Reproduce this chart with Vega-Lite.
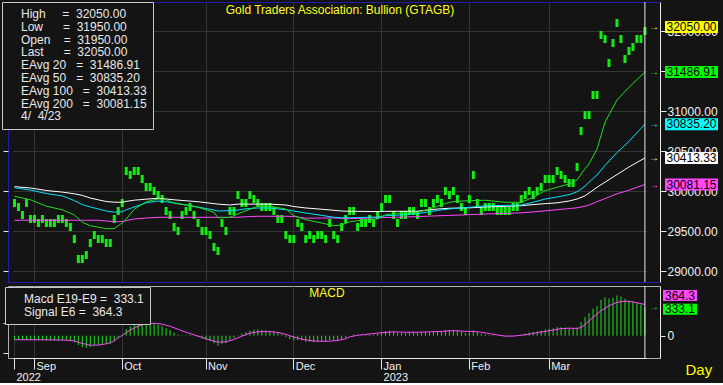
{
  "$schema": "https://vega.github.io/schema/vega-lite/v6.json",
  "background": "#141414",
  "padding": {"left": 1, "top": 1, "right": 0, "bottom": 0},
  "columns": 2,
  "align": "each",
  "bounds": "flush",
  "spacing": {"row": 4, "column": 0},
  "config": {
    "font": "Liberation Sans",
    "view": {"stroke": null},
    "axis": {"gridColor": "#353535", "domainColor": "#e8e8e8", "tickColor": "#e8e8e8", "labelColor": "#f0f0f0", "labelFont": "Liberation Sans", "labelFontSize": 12, "titleColor": "#ffff20", "titleFont": "Liberation Sans", "titleFontWeight": "normal"},
    "title": {"color": "#ffff20", "font": "Liberation Sans", "fontSize": 12, "fontWeight": "normal"},
    "legend": {"orient": "none", "direction": "vertical", "fillColor": "#141414", "strokeColor": "#c8c8c8", "padding": 6, "symbolType": "square", "symbolSize": 1, "symbolOpacity": 0, "symbolStrokeWidth": 0, "labelFont": "Liberation Sans", "labelFontSize": 12, "labelColor": "#e8e8e8", "labelOffset": 1, "rowPadding": 0.8, "labelLimit": 300}
  },
  "resolve": {"scale": {"x": "independent", "y": "independent", "color": "independent", "fill": "independent"}, "legend": {"color": "independent"}},
  "datasets": {
    "bars": [
      {"d":"2022-08-25","h":29900,"l":29800,"m":-51},
      {"d":"2022-08-26","h":29850,"l":29750,"m":-50},
      {"d":"2022-08-29","h":29750,"l":29650,"m":-52},
      {"d":"2022-08-30","h":29900,"l":29800,"m":-48},
      {"d":"2022-08-31","h":29700,"l":29600,"m":-52},
      {"d":"2022-09-01","h":29700,"l":29600,"m":-53},
      {"d":"2022-09-02","h":29650,"l":29550,"m":-55},
      {"d":"2022-09-05","h":29700,"l":29600,"m":-54},
      {"d":"2022-09-06","h":29650,"l":29550,"m":-56},
      {"d":"2022-09-07","h":29650,"l":29550,"m":-57},
      {"d":"2022-09-08","h":29650,"l":29550,"m":-58},
      {"d":"2022-09-09","h":29700,"l":29600,"m":-55},
      {"d":"2022-09-12","h":29700,"l":29600,"m":-53},
      {"d":"2022-09-13","h":29650,"l":29550,"m":-55},
      {"d":"2022-09-14","h":29600,"l":29500,"m":-60},
      {"d":"2022-09-15","h":29450,"l":29350,"m":-75},
      {"d":"2022-09-16","h":29200,"l":29100,"m":-110},
      {"d":"2022-09-19","h":29200,"l":29100,"m":-136},
      {"d":"2022-09-20","h":29250,"l":29150,"m":-140},
      {"d":"2022-09-21","h":29400,"l":29300,"m":-130},
      {"d":"2022-09-22","h":29500,"l":29400,"m":-115},
      {"d":"2022-09-23","h":29450,"l":29350,"m":-108},
      {"d":"2022-09-26","h":29450,"l":29350,"m":-100},
      {"d":"2022-09-27","h":29400,"l":29300,"m":-98},
      {"d":"2022-09-28","h":29400,"l":29300,"m":-95},
      {"d":"2022-09-29","h":29700,"l":29600,"m":-60},
      {"d":"2022-09-30","h":29800,"l":29700,"m":-25},
      {"d":"2022-10-03","h":29900,"l":29800,"m":10},
      {"d":"2022-10-04","h":30300,"l":30200,"m":75},
      {"d":"2022-10-05","h":30250,"l":30150,"m":110},
      {"d":"2022-10-06","h":30300,"l":30200,"m":140},
      {"d":"2022-10-07","h":30300,"l":30200,"m":156},
      {"d":"2022-10-10","h":30200,"l":30100,"m":160},
      {"d":"2022-10-11","h":30100,"l":30000,"m":155},
      {"d":"2022-10-12","h":30100,"l":30000,"m":150},
      {"d":"2022-10-13","h":30050,"l":29950,"m":140},
      {"d":"2022-10-14","h":30000,"l":29900,"m":128},
      {"d":"2022-10-17","h":29950,"l":29850,"m":112},
      {"d":"2022-10-18","h":29800,"l":29700,"m":88},
      {"d":"2022-10-19","h":29750,"l":29650,"m":65},
      {"d":"2022-10-20","h":29600,"l":29500,"m":35},
      {"d":"2022-10-21","h":29550,"l":29450,"m":10},
      {"d":"2022-10-24","h":29750,"l":29650,"m":5},
      {"d":"2022-10-25","h":29800,"l":29700,"m":5},
      {"d":"2022-10-26","h":29850,"l":29750,"m":8},
      {"d":"2022-10-27","h":29750,"l":29650,"m":0},
      {"d":"2022-10-28","h":29650,"l":29550,"m":-15},
      {"d":"2022-10-31","h":29550,"l":29450,"m":-35},
      {"d":"2022-11-01","h":29550,"l":29450,"m":-50},
      {"d":"2022-11-02","h":29500,"l":29400,"m":-65},
      {"d":"2022-11-03","h":29350,"l":29250,"m":-90},
      {"d":"2022-11-04","h":29300,"l":29200,"m":-117},
      {"d":"2022-11-07","h":29650,"l":29550,"m":-95},
      {"d":"2022-11-08","h":29550,"l":29450,"m":-85},
      {"d":"2022-11-09","h":29800,"l":29700,"m":-55},
      {"d":"2022-11-10","h":29800,"l":29700,"m":-30},
      {"d":"2022-11-11","h":30000,"l":29900,"m":5},
      {"d":"2022-11-14","h":29900,"l":29800,"m":25},
      {"d":"2022-11-15","h":29900,"l":29800,"m":40},
      {"d":"2022-11-16","h":30000,"l":29900,"m":60},
      {"d":"2022-11-17","h":29950,"l":29850,"m":70},
      {"d":"2022-11-18","h":29900,"l":29800,"m":72},
      {"d":"2022-11-21","h":29850,"l":29750,"m":68},
      {"d":"2022-11-22","h":29850,"l":29750,"m":62},
      {"d":"2022-11-23","h":29850,"l":29750,"m":55},
      {"d":"2022-11-24","h":29800,"l":29700,"m":45},
      {"d":"2022-11-25","h":29700,"l":29600,"m":28},
      {"d":"2022-11-28","h":29700,"l":29600,"m":15},
      {"d":"2022-11-29","h":29500,"l":29400,"m":-15},
      {"d":"2022-11-30","h":29450,"l":29350,"m":-40},
      {"d":"2022-12-01","h":29450,"l":29350,"m":-58},
      {"d":"2022-12-02","h":29650,"l":29550,"m":-52},
      {"d":"2022-12-05","h":29600,"l":29500,"m":-55},
      {"d":"2022-12-06","h":29450,"l":29350,"m":-70},
      {"d":"2022-12-07","h":29500,"l":29400,"m":-72},
      {"d":"2022-12-08","h":29450,"l":29350,"m":-76},
      {"d":"2022-12-09","h":29500,"l":29400,"m":-73},
      {"d":"2022-12-12","h":29500,"l":29400,"m":-70},
      {"d":"2022-12-13","h":29450,"l":29350,"m":-70},
      {"d":"2022-12-14","h":29650,"l":29550,"m":-52},
      {"d":"2022-12-15","h":29500,"l":29400,"m":-55},
      {"d":"2022-12-16","h":29450,"l":29350,"m":-58},
      {"d":"2022-12-19","h":29600,"l":29500,"m":-45},
      {"d":"2022-12-20","h":29700,"l":29600,"m":-25},
      {"d":"2022-12-21","h":29800,"l":29700,"m":0},
      {"d":"2022-12-22","h":29800,"l":29700,"m":15},
      {"d":"2022-12-23","h":29600,"l":29500,"m":5},
      {"d":"2022-12-26","h":29650,"l":29550,"m":5},
      {"d":"2022-12-27","h":29650,"l":29550,"m":8},
      {"d":"2022-12-28","h":29700,"l":29600,"m":12},
      {"d":"2022-12-29","h":29650,"l":29550,"m":12},
      {"d":"2022-12-30","h":29750,"l":29650,"m":20},
      {"d":"2023-01-02","h":29850,"l":29750,"m":35},
      {"d":"2023-01-03","h":29950,"l":29850,"m":52},
      {"d":"2023-01-04","h":29950,"l":29850,"m":60},
      {"d":"2023-01-05","h":29750,"l":29650,"m":45},
      {"d":"2023-01-06","h":29650,"l":29550,"m":30},
      {"d":"2023-01-09","h":29750,"l":29650,"m":30},
      {"d":"2023-01-10","h":29750,"l":29650,"m":30},
      {"d":"2023-01-11","h":29800,"l":29700,"m":33},
      {"d":"2023-01-12","h":29800,"l":29700,"m":35},
      {"d":"2023-01-13","h":29750,"l":29650,"m":30},
      {"d":"2023-01-16","h":29900,"l":29800,"m":40},
      {"d":"2023-01-17","h":29900,"l":29800,"m":45},
      {"d":"2023-01-18","h":29800,"l":29700,"m":40},
      {"d":"2023-01-19","h":29900,"l":29800,"m":45},
      {"d":"2023-01-20","h":29950,"l":29850,"m":50},
      {"d":"2023-01-23","h":29900,"l":29800,"m":50},
      {"d":"2023-01-24","h":30050,"l":29950,"m":62},
      {"d":"2023-01-25","h":30000,"l":29900,"m":64},
      {"d":"2023-01-26","h":30050,"l":29950,"m":68},
      {"d":"2023-01-27","h":29950,"l":29850,"m":60},
      {"d":"2023-01-30","h":29850,"l":29750,"m":45},
      {"d":"2023-01-31","h":29800,"l":29700,"m":32},
      {"d":"2023-02-01","h":29950,"l":29850,"m":35},
      {"d":"2023-02-02","h":30250,"l":30150,"m":60},
      {"d":"2023-02-03","h":29900,"l":29800,"m":40},
      {"d":"2023-02-06","h":29800,"l":29700,"m":22},
      {"d":"2023-02-07","h":29850,"l":29750,"m":15},
      {"d":"2023-02-08","h":29850,"l":29750,"m":10},
      {"d":"2023-02-09","h":29850,"l":29750,"m":6},
      {"d":"2023-02-10","h":29800,"l":29700,"m":0},
      {"d":"2023-02-13","h":29800,"l":29700,"m":-5},
      {"d":"2023-02-14","h":29800,"l":29700,"m":-8},
      {"d":"2023-02-15","h":29800,"l":29700,"m":-10},
      {"d":"2023-02-16","h":29850,"l":29750,"m":-5},
      {"d":"2023-02-17","h":29850,"l":29750,"m":0},
      {"d":"2023-02-20","h":29950,"l":29850,"m":12},
      {"d":"2023-02-21","h":30000,"l":29900,"m":25},
      {"d":"2023-02-22","h":30050,"l":29950,"m":40},
      {"d":"2023-02-23","h":30000,"l":29900,"m":45},
      {"d":"2023-02-24","h":30050,"l":29950,"m":52},
      {"d":"2023-02-27","h":30100,"l":30000,"m":60},
      {"d":"2023-02-28","h":30200,"l":30100,"m":72},
      {"d":"2023-03-01","h":30200,"l":30100,"m":80},
      {"d":"2023-03-02","h":30200,"l":30100,"m":85},
      {"d":"2023-03-03","h":30300,"l":30200,"m":100},
      {"d":"2023-03-06","h":30250,"l":30150,"m":100},
      {"d":"2023-03-07","h":30200,"l":30100,"m":94},
      {"d":"2023-03-08","h":30150,"l":30050,"m":85},
      {"d":"2023-03-09","h":30150,"l":30050,"m":78},
      {"d":"2023-03-10","h":30350,"l":30250,"m":95},
      {"d":"2023-03-13","h":30800,"l":30700,"m":160},
      {"d":"2023-03-14","h":31000,"l":30900,"m":220},
      {"d":"2023-03-15","h":31000,"l":30900,"m":265},
      {"d":"2023-03-16","h":31250,"l":31150,"m":315},
      {"d":"2023-03-17","h":31250,"l":31150,"m":345},
      {"d":"2023-03-20","h":32000,"l":31900,"m":420},
      {"d":"2023-03-21","h":31950,"l":31850,"m":450},
      {"d":"2023-03-22","h":31650,"l":31550,"m":435},
      {"d":"2023-03-23","h":31900,"l":31800,"m":445},
      {"d":"2023-03-24","h":32150,"l":32050,"m":470},
      {"d":"2023-03-27","h":31950,"l":31850,"m":460},
      {"d":"2023-03-28","h":31700,"l":31600,"m":430},
      {"d":"2023-03-29","h":31800,"l":31700,"m":410},
      {"d":"2023-03-30","h":31850,"l":31750,"m":395},
      {"d":"2023-03-31","h":31950,"l":31850,"m":380},
      {"d":"2023-04-03","h":31950,"l":31850,"m":365},
      {"d":"2023-04-04","h":32050,"l":31950,"m":333.1}
    ],
    "ema": [
      {"d":"2022-08-25","e20":29934,"e50":30041,"e100":30054,"e200":29634},
      {"d":"2022-08-31","e20":29890,"e50":30012,"e100":30038,"e200":29634},
      {"d":"2022-09-06","e20":29810,"e50":29968,"e100":30006,"e200":29634},
      {"d":"2022-09-12","e20":29765,"e50":29938,"e100":29986,"e200":29634},
      {"d":"2022-09-15","e20":29700,"e50":29880,"e100":29965,"e200":29634},
      {"d":"2022-09-19","e20":29609,"e50":29830,"e100":29945,"e200":29634},
      {"d":"2022-09-21","e20":29566,"e50":29800,"e100":29912,"e200":29634},
      {"d":"2022-09-23","e20":29548,"e50":29775,"e100":29890,"e200":29634},
      {"d":"2022-09-27","e20":29528,"e50":29750,"e100":29868,"e200":29625},
      {"d":"2022-09-29","e20":29530,"e50":29735,"e100":29860,"e200":29616},
      {"d":"2022-09-30","e20":29566,"e50":29738,"e100":29859,"e200":29616},
      {"d":"2022-10-03","e20":29600,"e50":29740,"e100":29860,"e200":29620},
      {"d":"2022-10-04","e20":29650,"e50":29765,"e100":29870,"e200":29630},
      {"d":"2022-10-06","e20":29770,"e50":29800,"e100":29885,"e200":29650},
      {"d":"2022-10-11","e20":29866,"e50":29852,"e100":29898,"e200":29662},
      {"d":"2022-10-14","e20":29900,"e50":29875,"e100":29909,"e200":29671},
      {"d":"2022-10-18","e20":29891,"e50":29865,"e100":29900,"e200":29671},
      {"d":"2022-10-20","e20":29846,"e50":29852,"e100":29890,"e200":29671},
      {"d":"2022-10-25","e20":29825,"e50":29825,"e100":29878,"e200":29671},
      {"d":"2022-10-28","e20":29796,"e50":29800,"e100":29866,"e200":29671},
      {"d":"2022-11-03","e20":29734,"e50":29762,"e100":29842,"e200":29671},
      {"d":"2022-11-04","e20":29665,"e50":29750,"e100":29836,"e200":29671},
      {"d":"2022-11-09","e20":29671,"e50":29755,"e100":29825,"e200":29671},
      {"d":"2022-11-11","e20":29713,"e50":29762,"e100":29836,"e200":29672},
      {"d":"2022-11-15","e20":29754,"e50":29778,"e100":29836,"e200":29678},
      {"d":"2022-11-18","e20":29809,"e50":29788,"e100":29836,"e200":29684},
      {"d":"2022-11-23","e20":29809,"e50":29788,"e100":29836,"e200":29684},
      {"d":"2022-11-29","e20":29775,"e50":29765,"e100":29825,"e200":29684},
      {"d":"2022-12-01","e20":29691,"e50":29750,"e100":29806,"e200":29682},
      {"d":"2022-12-06","e20":29641,"e50":29725,"e100":29788,"e200":29660},
      {"d":"2022-12-12","e20":29600,"e50":29695,"e100":29772,"e200":29662},
      {"d":"2022-12-15","e20":29566,"e50":29672,"e100":29759,"e200":29663},
      {"d":"2022-12-19","e20":29575,"e50":29666,"e100":29750,"e200":29658},
      {"d":"2022-12-21","e20":29615,"e50":29666,"e100":29746,"e200":29654},
      {"d":"2022-12-23","e20":29629,"e50":29668,"e100":29746,"e200":29656},
      {"d":"2022-12-30","e20":29650,"e50":29675,"e100":29742,"e200":29666},
      {"d":"2023-01-03","e20":29704,"e50":29691,"e100":29746,"e200":29668},
      {"d":"2023-01-06","e20":29721,"e50":29698,"e100":29746,"e200":29672},
      {"d":"2023-01-13","e20":29734,"e50":29718,"e100":29748,"e200":29680},
      {"d":"2023-01-18","e20":29775,"e50":29740,"e100":29765,"e200":29686},
      {"d":"2023-01-20","e20":29809,"e50":29757,"e100":29775,"e200":29690},
      {"d":"2023-01-25","e20":29859,"e50":29775,"e100":29784,"e200":29695},
      {"d":"2023-01-27","e20":29871,"e50":29785,"e100":29787,"e200":29698},
      {"d":"2023-02-01","e20":29880,"e50":29795,"e100":29790,"e200":29705},
      {"d":"2023-02-07","e20":29884,"e50":29815,"e100":29800,"e200":29712},
      {"d":"2023-02-14","e20":29859,"e50":29820,"e100":29808,"e200":29720},
      {"d":"2023-02-20","e20":29859,"e50":29825,"e100":29816,"e200":29727},
      {"d":"2023-02-23","e20":29921,"e50":29859,"e100":29830,"e200":29738},
      {"d":"2023-02-28","e20":30004,"e50":29900,"e100":29842,"e200":29752},
      {"d":"2023-03-03","e20":30046,"e50":29925,"e100":29852,"e200":29766},
      {"d":"2023-03-08","e20":30088,"e50":29955,"e100":29875,"e200":29780},
      {"d":"2023-03-10","e20":30138,"e50":29990,"e100":29900,"e200":29790},
      {"d":"2023-03-14","e20":30280,"e50":30060,"e100":29940,"e200":29810},
      {"d":"2023-03-15","e20":30340,"e50":30110,"e100":29975,"e200":29825},
      {"d":"2023-03-17","e20":30525,"e50":30200,"e100":30046,"e200":29866},
      {"d":"2023-03-21","e20":30859,"e50":30320,"e100":30110,"e200":29905},
      {"d":"2023-03-24","e20":31138,"e50":30480,"e100":30205,"e200":29965},
      {"d":"2023-03-29","e20":31296,"e50":30620,"e100":30300,"e200":30010},
      {"d":"2023-04-04","e20":31486.91,"e50":30835.2,"e100":30413.33,"e200":30081.15}
    ],
    "sig": [
      {"d":"2022-08-25","s":-47},{"d":"2022-09-06","s":-48},{"d":"2022-09-13","s":-52},{"d":"2022-09-15","s":-62},
      {"d":"2022-09-19","s":-90},{"d":"2022-09-21","s":-112},{"d":"2022-09-23","s":-110},{"d":"2022-09-27","s":-95},
      {"d":"2022-09-28","s":-82},{"d":"2022-09-29","s":-62},{"d":"2022-09-30","s":-25},{"d":"2022-10-03","s":5},
      {"d":"2022-10-04","s":35},{"d":"2022-10-05","s":65},{"d":"2022-10-07","s":110},{"d":"2022-10-11","s":140},
      {"d":"2022-10-13","s":145},{"d":"2022-10-17","s":135},{"d":"2022-10-19","s":110},{"d":"2022-10-21","s":75},
      {"d":"2022-10-25","s":40},{"d":"2022-10-27","s":10},{"d":"2022-10-31","s":-20},{"d":"2022-11-02","s":-50},
      {"d":"2022-11-04","s":-75},{"d":"2022-11-08","s":-72},{"d":"2022-11-10","s":-45},{"d":"2022-11-14","s":-5},
      {"d":"2022-11-16","s":30},{"d":"2022-11-18","s":45},{"d":"2022-11-22","s":48},{"d":"2022-11-24","s":45},
      {"d":"2022-11-28","s":28},{"d":"2022-11-30","s":0},{"d":"2022-12-02","s":-30},{"d":"2022-12-06","s":-50},
      {"d":"2022-12-08","s":-62},{"d":"2022-12-12","s":-66},{"d":"2022-12-14","s":-64},{"d":"2022-12-16","s":-56},
      {"d":"2022-12-20","s":-35},{"d":"2022-12-21","s":-15},{"d":"2022-12-23","s":5},{"d":"2022-12-27","s":15},
      {"d":"2022-12-29","s":25},{"d":"2023-01-02","s":35},{"d":"2023-01-05","s":45},{"d":"2023-01-10","s":40},
      {"d":"2023-01-13","s":40},{"d":"2023-01-18","s":45},{"d":"2023-01-23","s":50},{"d":"2023-01-25","s":57},
      {"d":"2023-01-27","s":58},{"d":"2023-01-31","s":50},{"d":"2023-02-02","s":50},{"d":"2023-02-06","s":40},
      {"d":"2023-02-08","s":25},{"d":"2023-02-10","s":8},{"d":"2023-02-14","s":-5},{"d":"2023-02-16","s":-5},
      {"d":"2023-02-20","s":5},{"d":"2023-02-22","s":18},{"d":"2023-02-24","s":35},{"d":"2023-02-28","s":50},
      {"d":"2023-03-02","s":65},{"d":"2023-03-06","s":82},{"d":"2023-03-08","s":88},{"d":"2023-03-10","s":85},
      {"d":"2023-03-13","s":95},{"d":"2023-03-14","s":130},{"d":"2023-03-16","s":215},{"d":"2023-03-20","s":292},
      {"d":"2023-03-22","s":350},{"d":"2023-03-24","s":390},{"d":"2023-03-28","s":404},{"d":"2023-03-30","s":395},
      {"d":"2023-04-03","s":375},{"d":"2023-04-04","s":364.3}
    ],
    "last": [
      {"s":"h","v":32050,"d":"2023-04-04"},
      {"s":"e20","v":31486.91,"d":"2023-04-04"},
      {"s":"e50","v":30835.2,"d":"2023-04-04"},
      {"s":"e100","v":30413.33,"d":"2023-04-04"},
      {"s":"e200","v":30081.15,"d":"2023-04-04"}
    ],
    "lastm": [
      {"s":"sig","v":364.3,"d":"2023-04-04"},
      {"s":"macd","v":333.1,"d":"2023-04-04"}
    ],
    "info": [
      {"t":"High\u00a0\u00a0\u00a0\u00a0\u00a0=\u00a0\u00a032050.00"},
      {"t":"Low\u00a0\u00a0\u00a0\u00a0\u00a0\u00a0=\u00a0\u00a031950.00"},
      {"t":"Open\u00a0\u00a0\u00a0\u00a0=\u00a0\u00a031950.00"},
      {"t":"Last\u00a0\u00a0\u00a0\u00a0\u00a0\u00a0=\u00a0\u00a032050.00"},
      {"t":"EAvg\u00a020\u00a0\u00a0\u00a0=\u00a0\u00a031486.91"},
      {"t":"EAvg\u00a050\u00a0\u00a0\u00a0=\u00a0\u00a030835.20"},
      {"t":"EAvg\u00a0100\u00a0\u00a0\u00a0=\u00a0\u00a030413.33"},
      {"t":"EAvg\u00a0200\u00a0\u00a0\u00a0=\u00a0\u00a030081.15"},
      {"t":"\u00a0\u00a04/\u00a0\u00a04/23"}
    ],
    "minfo": [
      {"t":"Macd\u00a0E19-E9\u00a0=\u00a0\u00a0333.1"},
      {"t":"Signal\u00a0E6\u00a0=\u00a0\u00a0364.3"}
    ]
  },
  "concat": [
    {
      "width": 652, "height": 280,
      "view": {"stroke": "#1c1cb0"},
      "title": {"text": "Gold Traders Association: Bullion (GTAGB)", "offset": -15, "frame": "group", "dx": 6},
      "layer": [
        {
          "data": {"name": "bars"},
          "mark": {"type": "bar", "color": "#12ee12"},
          "encoding": {
            "x": {"field": "d", "type": "ordinal", "title": null, "scale": {"type": "band", "paddingInner": 0.25, "paddingOuter": 0, "range": [5, 638.4]},
                  "axis": {"values": ["2022-09-01","2022-10-03","2022-11-01","2022-12-01","2023-01-02","2023-02-01","2023-03-01"], "bandPosition": 0.5, "grid": true, "ticks": false, "labels": false, "domain": false, "title": "No Gaps", "titleX": 7, "titleY": -4, "titleAlign": "left", "titleBaseline": "alphabetic", "titleFontSize": 11, "titleColor": "#e0e000"}},
            "y": {"field": "h", "type": "quantitative", "title": null, "scale": {"domain": [28862.5, 32362.5], "nice": false, "zero": false},
                  "axis": {"orient": "left", "values": [29000,29500,30000,30500,31000,31500,32000], "tickSize": 5, "labels": false, "domain": false, "grid": true, "title": null}},
            "y2": {"field": "l"}
          }
        },
        {
          "data": {"name": "ema"},
          "mark": {"type": "line", "color": "#ff48ff", "strokeWidth": 1},
          "encoding": {
            "x": {"field": "d", "type": "ordinal", "title": null, "scale": {"type": "band", "paddingInner": 0.25, "paddingOuter": 0, "range": [5, 638.4]}},
            "y": {"field": "e200", "type": "quantitative", "title": null}
          }
        },
        {
          "data": {"name": "ema"},
          "mark": {"type": "line", "color": "#ffffff", "strokeWidth": 1},
          "encoding": {
            "x": {"field": "d", "type": "ordinal", "title": null, "scale": {"type": "band", "paddingInner": 0.25, "paddingOuter": 0, "range": [5, 638.4]}},
            "y": {"field": "e100", "type": "quantitative", "title": null}
          }
        },
        {
          "data": {"name": "ema"},
          "mark": {"type": "line", "color": "#00e4ff", "strokeWidth": 1},
          "encoding": {
            "x": {"field": "d", "type": "ordinal", "title": null, "scale": {"type": "band", "paddingInner": 0.25, "paddingOuter": 0, "range": [5, 638.4]}},
            "y": {"field": "e50", "type": "quantitative", "title": null}
          }
        },
        {
          "data": {"name": "ema"},
          "mark": {"type": "line", "color": "#22dd22", "strokeWidth": 1},
          "encoding": {
            "x": {"field": "d", "type": "ordinal", "title": null, "scale": {"type": "band", "paddingInner": 0.25, "paddingOuter": 0, "range": [5, 638.4]}},
            "y": {"field": "e20", "type": "quantitative", "title": null}
          }
        },
        {
          "data": {"name": "bars"},
          "transform": [{"filter": "datum.d == '2023-04-04'"}],
          "mark": {"type": "rule", "color": "#e8e8e8", "strokeWidth": 1},
          "encoding": {"x": {"field": "d", "type": "ordinal", "title": null, "scale": {"type": "band", "paddingInner": 0.25, "paddingOuter": 0, "range": [5, 638.4]}}}
        },
        {
          "data": {"name": "last"},
          "mark": {"type": "text", "text": "→", "dx": 9, "fontSize": 10, "baseline": "middle"},
          "encoding": {
            "x": {"field": "d", "type": "ordinal", "title": null, "scale": {"type": "band", "paddingInner": 0.25, "paddingOuter": 0, "range": [5, 638.4]}},
            "y": {"field": "v", "type": "quantitative", "title": null},
            "fill": {"field": "s", "type": "nominal", "scale": {"domain": ["h","e20","e50","e100","e200"], "range": ["#ffff00","#22ee22","#00ffff","#ffffff","#ff48ff"]}, "legend": null}
          }
        },
        {
          "data": {"name": "info"},
          "mark": {"type": "point", "opacity": 0},
          "encoding": {
            "color": {"field": "t", "type": "nominal", "sort": null,
              "scale": {"range": ["#ffff20","#ffff20","#20e020","#ff2020","#20e020","#00ffff","#ffffff","#ff48ff","#ffffff"]},
              "legend": {"title": null, "orient": "none", "legendX": -6, "legendY": 0, "labelColor": "#e8e8e8",
                "encode": {"labels": {"fill": {"condition": [
                  {"test": "indexof(datum.value,'High')===0 || indexof(datum.value,'Low')===0", "value": "#ffff20"},
                  {"test": "indexof(datum.value,'Open')===0", "value": "#20e020"},
                  {"test": "indexof(datum.value,'Last')===0", "value": "#ff2020"},
                  {"test": "indexof(datum.value,'EAvg\u00a0200')===0", "value": "#ff48ff"},
                  {"test": "indexof(datum.value,'EAvg\u00a020')===0", "value": "#20e020"},
                  {"test": "indexof(datum.value,'EAvg\u00a050')===0", "value": "#00ffff"}
                ], "value": "#ffffff"}}}}}
          }
        }
      ]
    },
    {
      "width": 63, "height": 280,
      "layer": [
        {
          "data": {"name": "last"},
          "mark": {"type": "tick", "size": 53, "thickness": 12, "opacity": 1},
          "encoding": {
            "y": {"field": "v", "type": "quantitative", "title": null, "scale": {"domain": [28862.5, 32362.5], "nice": false, "zero": false},
                  "axis": {"orient": "right", "offset": -63, "values": [29000,29500,30000,30500,31000,31500,32000], "format": ".2f", "tickSize": 6,
                           "labelPadding": 1, "labelOverlap": false, "labelFlush": false, "domain": true, "grid": false, "title": null, "zindex": 0}},
            "color": {"field": "s", "type": "nominal", "scale": {"domain": ["h","e20","e50","e100","e200"], "range": ["#ffff00","#00ff00","#00ffff","#ffffff","#ff48ff"]}, "legend": null}
          }
        },
        {
          "data": {"name": "last"},
          "mark": {"type": "text", "color": "#000000", "fontSize": 12},
          "encoding": {
            "x": {"datum": 0.5, "type": "quantitative", "scale": {"domain": [0, 1]}, "axis": null},
            "y": {"field": "v", "type": "quantitative", "title": null},
            "text": {"field": "v", "type": "quantitative", "format": ".2f"}
          }
        }
      ]
    },
    {
      "width": 652, "height": 72,
      "view": {"stroke": "#b0b0b0"},
      "title": {"text": "MACD", "offset": -14, "frame": "group", "dx": -7},
      "layer": [
        {
          "data": {"name": "bars"},
          "mark": {"type": "rule", "color": "#22dd22", "strokeWidth": 1},
          "encoding": {
            "x": {"field": "d", "type": "ordinal", "title": null, "scale": {"type": "band", "paddingInner": 0.25, "paddingOuter": 0, "range": [5, 638.4]},
                  "axis": {"orient": "bottom", "values": ["2022-08-25","2022-09-01","2022-10-03","2022-11-01","2022-12-01","2023-01-02","2023-02-01","2023-03-01"], "bandPosition": 0.5,
                           "labelExpr": "datum.value == '2022-08-25' ? ['', '2022'] : datum.value == '2023-01-02' ? ['Jan', '2023'] : ['Jan','Feb','Mar','Apr','May','Jun','Jul','Aug','Sep','Oct','Nov','Dec'][toNumber(substring(datum.value,5,7))-1]",
                           "labelAngle": 0, "labelAlign": "left", "labelOffset": 2, "labelBaseline": "top", "labelPadding": -9, "labelLineHeight": 11, "tickSize": 11,
                           "grid": true, "labelFontSize": 11, "labelFlush": false, "labelOverlap": false, "title": null}},
            "y": {"field": "m", "type": "quantitative", "title": null, "scale": {"domain": [-261, 581], "nice": false, "zero": false},
                  "axis": {"orient": "left", "values": [-200,-150,-100,-50,0,50,100,150], "tickSize": 5, "labels": false, "domain": false, "grid": false, "title": null}},
            "y2": {"datum": 0}
          }
        },
        {
          "data": {"name": "sig"},
          "mark": {"type": "line", "color": "#ff48ff", "strokeWidth": 1},
          "encoding": {
            "x": {"field": "d", "type": "ordinal", "title": null, "scale": {"type": "band", "paddingInner": 0.25, "paddingOuter": 0, "range": [5, 638.4]}},
            "y": {"field": "s", "type": "quantitative", "title": null}
          }
        },
        {
          "data": {"name": "bars"},
          "transform": [{"filter": "datum.d == '2023-04-04'"}],
          "mark": {"type": "rule", "color": "#e8e8e8", "strokeWidth": 1},
          "encoding": {"x": {"field": "d", "type": "ordinal", "title": null, "scale": {"type": "band", "paddingInner": 0.25, "paddingOuter": 0, "range": [5, 638.4]}}}
        },
        {
          "data": {"name": "lastm"},
          "transform": [{"filter": "datum.s == 'macd'"}],
          "mark": {"type": "text", "text": "→", "dx": 9, "fontSize": 10, "baseline": "middle", "color": "#22ee22"},
          "encoding": {
            "x": {"field": "d", "type": "ordinal", "title": null, "scale": {"type": "band", "paddingInner": 0.25, "paddingOuter": 0, "range": [5, 638.4]}},
            "y": {"field": "v", "type": "quantitative", "title": null}
          }
        },
        {
          "data": {"name": "minfo"},
          "mark": {"type": "point", "opacity": 0},
          "encoding": {
            "color": {"field": "t", "type": "nominal", "sort": null,
              "scale": {"range": ["#20e020","#ff48ff"]},
              "legend": {"title": null, "orient": "none", "legendX": -3, "legendY": 1, "labelColor": "#e8e8e8",
                "encode": {"labels": {"fill": {"condition": [{"test": "indexof(datum.value,'Macd')===0", "value": "#20e020"}], "value": "#ff48ff"}}}}}
          }
        }
      ]
    },
    {
      "width": 63, "height": 72,
      "layer": [
        {
          "data": {"name": "lastm"},
          "transform": [{"filter": "datum.s == 'sig'"}],
          "mark": {"type": "tick", "size": 34, "thickness": 11, "opacity": 1, "color": "#ff48ff", "xOffset": -11.5, "yOffset": -9},
          "encoding": {
            "y": {"field": "v", "type": "quantitative", "scale": {"domain": [-261, 581], "nice": false, "zero": false},
                  "axis": {"orient": "right", "offset": -63, "values": [0], "format": "d", "tickSize": 5,
                           "labelPadding": 2, "labelOverlap": false, "labelFlush": false, "domain": true, "grid": false, "zindex": 0,
                           "title": "Day", "titleAngle": 0, "titleX": 25, "titleY": 83, "titleAlign": "left", "titleBaseline": "middle", "titleFontSize": 15, "titleColor": "#ffff00"}}
          }
        },
        {
          "data": {"name": "lastm"},
          "transform": [{"filter": "datum.s == 'macd'"}],
          "mark": {"type": "tick", "size": 34, "thickness": 11, "opacity": 1, "color": "#00ff00", "xOffset": -11.5, "yOffset": 2},
          "encoding": {
            "y": {"field": "v", "type": "quantitative"}
          }
        },
        {
          "data": {"name": "lastm"},
          "transform": [{"filter": "datum.s == 'sig'"}],
          "mark": {"type": "text", "color": "#000000", "fontSize": 12, "xOffset": -11.5, "yOffset": -9},
          "encoding": {
            "x": {"datum": 0.5, "type": "quantitative", "scale": {"domain": [0, 1]}, "axis": null},
            "y": {"field": "v", "type": "quantitative"},
            "text": {"field": "v", "type": "quantitative", "format": ".1f"}
          }
        },
        {
          "data": {"name": "lastm"},
          "transform": [{"filter": "datum.s == 'macd'"}],
          "mark": {"type": "text", "color": "#000000", "fontSize": 12, "xOffset": -11.5, "yOffset": 2},
          "encoding": {
            "x": {"datum": 0.5, "type": "quantitative", "axis": null},
            "y": {"field": "v", "type": "quantitative"},
            "text": {"field": "v", "type": "quantitative", "format": ".1f"}
          }
        }
      ]
    }
  ]
}
